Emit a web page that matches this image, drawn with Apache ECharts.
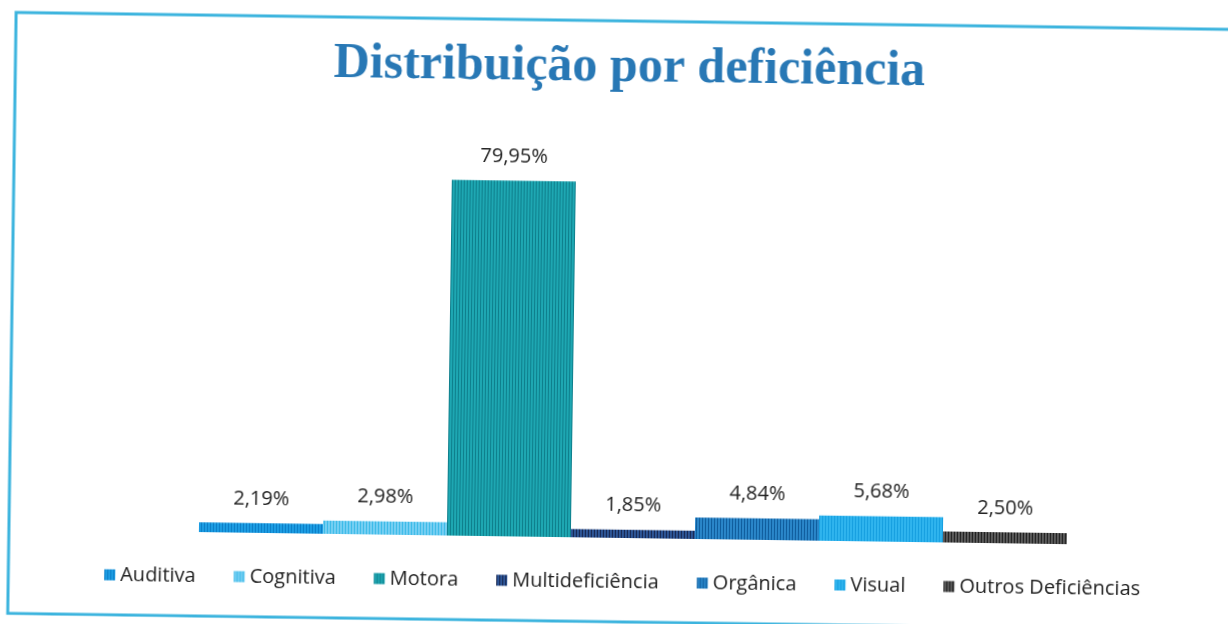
<!DOCTYPE html>
<html>
<head>
<meta charset="utf-8">
<script src="https://cdn.jsdelivr.net/npm/echarts@6/dist/echarts.min.js"></script>
<style>
  html, body { margin: 0; padding: 0; background: #fff; overflow: hidden; }
  #chart { width: 1252px; height: 624px; transform: rotate(0.8deg); transform-origin: 50% 50%; }
</style>
</head>
<body>
<div id="chart"></div>
<script>
const categories = ['Auditiva', 'Cognitiva', 'Motora', 'Multideficiência', 'Orgânica', 'Visual', 'Outros Deficiências']
const values = [2.19, 2.98, 79.95, 1.85, 4.84, 5.68, 2.50]
const baseColors = ['#1c9ce2', '#74cef2', '#1ea7b2', '#2d5596', '#2a86c9', '#2fb4ee', '#5a5a5a']
const stripeColors = ['#0b7fc8', '#3dbbe8', '#0e7f8c', '#17264f', '#0f5c9c', '#169fe0', '#1e1e1e']

// little vertical-stripe tile, like the scanned hatching
function stripes(base, line) {
  const c = document.createElement('canvas')
  c.width = 3
  c.height = 6
  const ctx = c.getContext('2d')
  ctx.fillStyle = base
  ctx.fillRect(0, 0, 3, 6)
  ctx.fillStyle = line
  ctx.fillRect(0, 0, 1, 6)
  return { image: c, repeat: 'repeat' }
}

const chart = echarts.init(document.getElementById('chart'))
chart.setOption({
  animation: false,
  title: {
    text: 'Distribuição por deficiência',
    left: 'center',
    top: 38,
    textStyle: { fontFamily: 'Liberation Serif', fontWeight: 'bold', fontSize: 50, color: '#2878b5' }
  },
  legend: {
    left: 'center',
    top: 567,
    itemWidth: 11,
    itemHeight: 11,
    itemGap: 38,
    icon: 'rect',
    textStyle: { fontFamily: 'Open Sans', fontSize: 20, color: '#222' }
  },
  grid: { left: 202, right: 182, top: 182, bottom: 86 },
  xAxis: { type: 'category', data: [''], show: false },
  yAxis: { type: 'value', min: 0, max: 80, show: false },
  graphic: [{
    type: 'rect',
    shape: { x: 12, y: 21, width: 1228, height: 601 },
    style: { fill: 'none', stroke: '#3cb4de', lineWidth: 3 },
    silent: true
  }],
  series: categories.map((name, i) => ({
    type: 'bar',
    name,
    data: [values[i]],
    barGap: '0%',
    barCategoryGap: '0%',
    itemStyle: { color: stripes(baseColors[i], stripeColors[i]) },
    label: {
      show: true,
      position: 'top',
      distance: 14,
      fontFamily: 'Open Sans',
      fontSize: 20,
      color: '#222',
      formatter: p => p.value.toFixed(2).replace('.', ',') + '%'
    }
  }))
})
</script>
</body>
</html>
